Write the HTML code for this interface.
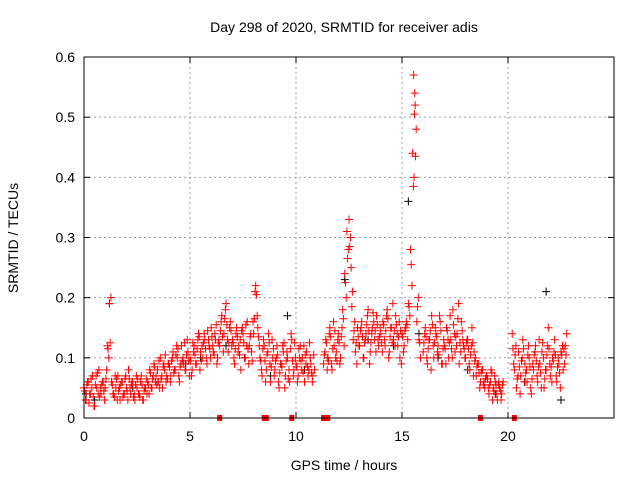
<!DOCTYPE html>
<html><head><meta charset="utf-8"><style>
body{margin:0;background:#fff}
svg text{font-family:"Liberation Sans",sans-serif;font-size:14px;fill:#000}
</style></head><body>
<svg id="c" width="640" height="480" xmlns="http://www.w3.org/2000/svg"></svg>
<script>
const xTicks=[0,5,10,15,20];
const yTicks=[0,0.1,0.2,0.3,0.4,0.5,0.6];
const yTickLabels=["0","0.1","0.2","0.3","0.4","0.5","0.6"];
const timesA=[0.0,0.1,0.2,0.3,0.4,0.5,0.6,0.7,0.8,0.9,1.0,1.1,1.2,1.3,1.4,1.5,1.6,1.7,1.8,1.9,2.0,2.1,2.2,2.3,2.4,2.5,2.6,2.7,2.8,2.9,3.0,3.1,3.2,3.3,3.4,3.5,3.6,3.7,3.8,3.9,4.0,4.1,4.2,4.3,4.4,4.5,4.6,4.7,4.8,4.9,5.0,5.1,5.2,5.3,5.4,5.5,5.6,5.7,5.8,5.9,6.0,6.1,6.2,6.3,6.4,6.5,6.6,6.7,6.8,6.9,7.0,7.1,7.2,7.3,7.4,7.5,7.6,7.7,7.8,7.9,8.0,8.1,8.2,8.3,8.4,8.5,8.6,8.7,8.8,8.9,9.0,9.1,9.2,9.3,9.4,9.5,9.6,9.7,9.8,9.9,10.0,10.1,10.2,10.3,10.4,10.5,10.6,10.7,10.8,
11.3,11.4,11.5,11.6,11.7,11.8,11.9,12.0,12.1,12.2,12.3,12.4,12.5,12.6,12.7,12.8,12.9,13.0,13.1,13.2,13.3,13.4,13.5,13.6,13.7,13.8,13.9,14.0,14.1,14.2,14.3,14.4,14.5,14.6,14.7,14.8,14.9,15.0,15.1,15.2,15.3,15.4,15.5,15.55,15.6,15.7,15.8,16.0,16.1,16.2,16.3,16.4,16.5,16.6,16.7,16.8,16.9,17.0,17.1,17.2,17.3,17.4,17.5,17.6,17.7,17.8,17.9,18.0,18.1,18.2,18.3,18.4,18.5,18.6,18.7,18.8,18.9,19.0,19.1,19.2,19.3,19.4,19.5,19.6,19.7,
20.2,20.3,20.4,20.5,20.6,20.7,20.8,20.9,21.0,21.1,21.2,21.3,21.4,21.5,21.6,21.7,21.8,21.9,22.0,22.1,22.2,22.3,22.4,22.5,22.6,22.7];
const seriesA=[5,3,6,4,7,2,5,8,4,6,5,12,19,6,4,5,7,3,6,4,5,8,4,6,3,5,4,7,3,5,6,8,5,9,7,6,10,5,8,7,9,7,11,8,10,6,12,9,8,11,10,8,12,9,14,11,10,13,9,12,15,11,13,10,12,17,14,19,11,16,13,9,15,12,8,14,10,16,12,11,14,22,15,10,7,12,8,14,6,10,8,12,5,9,11,7,10,6,13,8,9,7,12,10,6,11,8,9,7,
9,13,10,15,8,12,11,14,10,18,24,31,33,25,13,11,15,12,16,10,14,18,11,15,13,17,12,14,16,12,18,11,15,13,17,12,10,14,12,16,19,28,44,57,54,16,13,11,15,9,13,17,10,14,12,16,9,12,15,10,13,18,11,14,9,16,12,10,13,8,15,11,7,9,6,8,5,7,4,8,5,6,3,5,4,
14,8,5,11,7,13,9,6,10,4,8,12,6,9,11,5,8,15,7,10,13,6,9,11,8,12];
const seriesB=[3,6,4,5,2,7,4,5,6,3,8,10,20,4,7,3,5,6,4,7,3,5,6,4,7,4,6,3,5,4,4,5,7,6,8,5,7,9,6,9,6,10,8,12,7,9,10,8,13,7,7,11,9,13,8,12,14,10,13,10,12,14,9,13,16,11,18,13,15,12,10,14,11,13,15,10,12,9,14,16,21,17,12,8,13,6,11,9,13,7,10,6,9,12,5,11,8,14,7,10,6,10,8,12,9,7,10,6,8,
11,8,14,9,16,10,13,9,15,12,20,28,30,21,16,9,12,15,10,13,17,9,14,16,11,13,15,11,13,17,10,15,19,12,14,16,9,11,15,13,17,22,40,52,48,20,10,14,10,13,8,12,15,11,17,9,13,9,13,17,10,14,12,19,11,13,10,13,9,12,7,10,9,5,8,6,7,5,6,3,7,4,6,3,6,
9,12,7,4,10,6,8,12,5,9,11,7,13,5,10,8,12,9,6,11,7,10,5,12,9,14];
const seriesC=[4,5,2,6,3,5,7,3,5,4,6,11,12,5,3,6,4,5,3,6,4,6,5,3,5,6,3,5,4,6,5,7,6,8,5,9,6,8,10,6,8,9,7,10,11,8,9,12,10,9,9,12,10,11,13,9,12,11,14,11,13,10,15,12,14,13,16,15,12,14,12,11,13,10,14,12,15,11,13,9,16,20,13,9,11,9,10,12,8,11,9,10,7,8,12,9,6,11,9,12,8,11,9,7,10,8,12,7,10,
10,12,9,13,11,14,9,12,13,16,22,26,28,18,14,12,13,14,13,12,15,14,12,17,14,15,13,12,15,14,16,13,12,14,15,13,14,13,14,15,18,25,38,50,43,18,12,12,13,11,14,15,12,13,10,14,11,11,14,12,11,15,13,16,12,14,11,12,11,10,12,9,8,7,7,5,6,6,5,7,4,5,5,4,5,
11,10,6,8,9,11,7,10,8,6,10,9,8,7,12,6,10,11,8,9,10,8,7,10,11,10];
const timesK=[0.1,0.5,1.2,2.3,3.5,4.8,5.5,6.7,7.6,8.8,9.6,10.4,11.5,12.3,13.4,14.6,15.3,15.8,16.7,18.1,19.4,20.8,21.8,22.5];
const seriesK=[0.04,0.03,0.19,0.05,0.06,0.09,0.10,0.12,0.10,0.07,0.17,0.08,0.10,0.23,0.13,0.12,0.36,0.14,0.10,0.08,0.04,0.06,0.21,0.03];
const gapTimes=[6.4,8.5,8.6,9.8,11.3,11.4,11.5,18.7,20.3];

const L=84,R=614,T=57,B=418;
const xs=t=>L+(t/25)*(R-L);
const ys=v=>B-(v/0.6)*(B-T);
const svg=document.getElementById('c');
const NS='http://www.w3.org/2000/svg';
function mk(tag,attrs,parent){const e=document.createElementNS(NS,tag);for(const k in attrs)e.setAttribute(k,attrs[k]);(parent||svg).appendChild(e);return e;}

const grid=mk('g',{});


yTicks.forEach((v,i)=>{
  if(i>0&&i<yTicks.length-1){mk('line',{x1:L,x2:R,y1:ys(v),y2:ys(v),stroke:'#a0a0a0','stroke-dasharray':'2,3'},grid);}
  mk('line',{x1:L,x2:L+6,y1:ys(v),y2:ys(v),stroke:'#000'},grid);
  mk('line',{x1:R,x2:R-6,y1:ys(v),y2:ys(v),stroke:'#000'},grid);
  const t=mk('text',{x:L-9,y:ys(v)+5,'text-anchor':'end'});
  t.textContent=yTickLabels[i];
  
  
});
xTicks.forEach(v=>{
  if(v>0){mk('line',{x1:xs(v),x2:xs(v),y1:T,y2:B,stroke:'#a0a0a0','stroke-dasharray':'2,3'},grid);}
  mk('line',{x1:xs(v),x2:xs(v),y1:B,y2:B-6,stroke:'#000'},grid);
  mk('line',{x1:xs(v),x2:xs(v),y1:T,y2:T+6,stroke:'#000'},grid);
  const t=mk('text',{x:xs(v),y:B+23,'text-anchor':'middle'});
  t.textContent=String(v);
  
  
});

function plus(g,t,v,col){
  const x=xs(t),y=ys(v);
  const p=mk('path',{d:`M${x-4},${y}H${x+4}M${x},${y-4}V${y+4}`,stroke:col,'stroke-width':1,fill:'none'},g);
  
  
}
const gk=mk('g',{});


timesK.forEach((t,i)=>plus(gk,t,seriesK[i],'#000'));
const gr=mk('g',{});


timesA.forEach((t,i)=>{
  plus(gr,t,seriesA[i]/100,'#f00');
  plus(gr,t+0.035,seriesC[i]/100+0.005,'#f00');
  plus(gr,t+0.07,seriesB[i]/100,'#f00');
});
gapTimes.forEach(t=>{
  const r=mk('rect',{x:xs(t)-2.5,y:B-3,width:5,height:6,fill:'#f00'},gr);
  
  
});

const fr=mk('rect',{x:L,y:T,width:R-L,height:B-T,fill:'none',stroke:'#000'});


const tt=mk('text',{x:344,y:32,'text-anchor':'middle'});tt.textContent='Day 298 of 2020, SRMTID for receiver adis';


const xl=mk('text',{x:344,y:470,'text-anchor':'middle'});xl.textContent='GPS time / hours';


const yl=mk('text',{x:0,y:0,'text-anchor':'middle',transform:'translate(18,238) rotate(-90)'});yl.textContent='SRMTID / TECUs';


</script>
</body></html>
